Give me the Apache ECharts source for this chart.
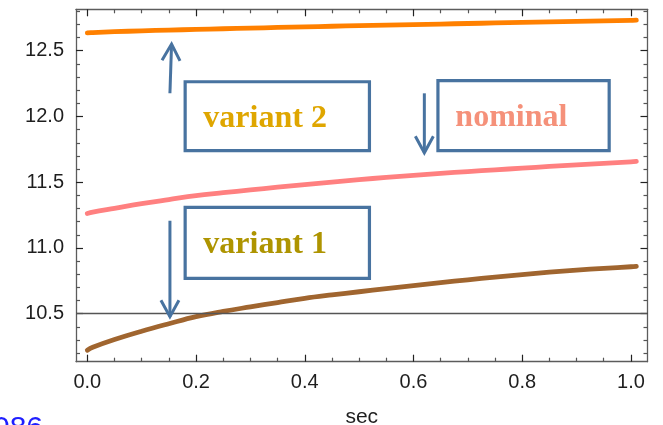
<!DOCTYPE html>
<html>
<head>
<meta charset="utf-8">
<script src="https://cdn.jsdelivr.net/npm/echarts@6/dist/echarts.min.js"></script>
<style>
  html, body { margin: 0; padding: 0; background: #fff; }
  #chart { width: 663px; height: 425px; }
</style>
</head>
<body>
<div id="chart"></div>
<script>
// Sampled time (seconds) shared by all three curves
const timeSec  = [0, 0.01, 0.05, 0.1, 0.15, 0.2, 0.25, 0.3, 0.35, 0.4, 0.45, 0.5, 0.55, 0.6, 0.65, 0.7, 0.75, 0.8, 0.85, 0.9, 0.95, 1.0, 1.01];
const variant2 = [12.636, 12.638, 12.645, 12.651, 12.657, 12.662, 12.667, 12.672, 12.677, 12.682, 12.686, 12.691, 12.695, 12.699, 12.703, 12.707, 12.711, 12.715, 12.719, 12.723, 12.727, 12.731, 12.732];
const nominal  = [11.262, 11.272, 11.301, 11.337, 11.368, 11.398, 11.420, 11.441, 11.462, 11.482, 11.501, 11.520, 11.536, 11.552, 11.567, 11.581, 11.594, 11.607, 11.620, 11.632, 11.644, 11.655, 11.658];
const variant1 = [10.222, 10.245, 10.304, 10.367, 10.424, 10.478, 10.518, 10.552, 10.585, 10.617, 10.643, 10.667, 10.690, 10.713, 10.736, 10.758, 10.778, 10.798, 10.816, 10.832, 10.845, 10.857, 10.860];
const referenceLevel = 10.5;

// Tick positions
const xMajorTicks = [0, 0.2, 0.4, 0.6, 0.8, 1.0];
const xMinorTicks = [0.05, 0.1, 0.15, 0.25, 0.3, 0.35, 0.45, 0.5, 0.55, 0.65, 0.7, 0.75, 0.85, 0.9, 0.95];
const yMajorTicks = [10.5, 11.0, 11.5, 12.0, 12.5];
const yMinorTicks = [10.2, 10.3, 10.4, 10.6, 10.7, 10.8, 10.9, 11.1, 11.2, 11.3, 11.4, 11.6, 11.7, 11.8, 11.9, 12.1, 12.2, 12.3, 12.4, 12.6, 12.7, 12.8];

const seriesNames = ['variant 2', 'nominal', 'variant 1'];

const X_MIN = -0.0208, X_MAX = 1.0305;
const Y_MIN = 10.135, Y_MAX = 12.815;

const FRAME = '#5c5c5c';
const ARROW = '#4873a0';

function pairs(ys) { return timeSec.map((t, i) => [t, ys[i]]); }

function axis(kind, position, ticks, len, withLabels, withLine, color) {
  const isX = kind === 'x';
  return {
    type: 'value',
    position: position,
    min: isX ? X_MIN : Y_MIN,
    max: isX ? X_MAX : Y_MAX,
    axisLine: { show: withLine, onZero: false, lineStyle: { color: FRAME, width: 1.3 } },
    axisTick: { show: true, inside: true, length: len, customValues: ticks,
                lineStyle: { color: color, width: 1.2 } },
    axisLabel: withLabels ? {
      show: true, customValues: ticks,
      formatter: v => Number(v).toFixed(1),
      color: '#1e1e1e', fontSize: 20, fontFamily: 'Liberation Sans',
      margin: isX ? 11 : 12
    } : { show: false },
    splitLine: { show: false },
    minorTick: { show: false }
  };
}

const chart = echarts.init(document.getElementById('chart'), null, { renderer: 'canvas' });

const xAxes = [
  Object.assign(axis('x', 'bottom', xMajorTicks, 7, true, true, '#222'), {
    name: 'sec', nameLocation: 'middle', nameGap: 45,
    nameTextStyle: { color: '#1e1e1e', fontSize: 21, fontFamily: 'Liberation Sans' }
  }),
  axis('x', 'bottom', xMinorTicks, 4, false, false, '#555'),
  axis('x', 'top', xMajorTicks, 7, false, true, '#222'),
  axis('x', 'top', xMinorTicks, 4, false, false, '#555')
];
const yAxes = [
  axis('y', 'left', yMajorTicks, 7, true, true, '#222'),
  axis('y', 'left', yMinorTicks, 4, false, false, '#555'),
  axis('y', 'right', yMajorTicks, 7, false, true, '#222'),
  axis('y', 'right', yMinorTicks, 4, false, false, '#555')
];

function curve(name, ys, color) {
  return {
    name: name, type: 'line', xAxisIndex: 0, yAxisIndex: 0,
    data: pairs(ys), showSymbol: false, smooth: 0.4, z: 3,
    lineStyle: { color: color, width: 4.8, cap: 'round', join: 'round' }
  };
}

chart.setOption({
  animation: false,
  backgroundColor: '#fff',
  grid: { left: 76, right: 15.5, top: 9.3, bottom: 63.3, containLabel: false, outerBoundsMode: 'none' },
  xAxis: xAxes,
  yAxis: yAxes,
  series: [
    {
      type: 'line', data: [], xAxisIndex: 0, yAxisIndex: 0, z: 1,
      markLine: {
        silent: true, symbol: 'none', animation: false,
        label: { show: false },
        lineStyle: { color: '#555', width: 1.4, type: 'solid' },
        data: [{ yAxis: referenceLevel }]
      }
    },
    curve(seriesNames[0], variant2, '#ff8000'),
    curve(seriesNames[1], nominal, '#ff8080'),
    curve(seriesNames[2], variant1, '#a0652f')
  ]
});

// Annotation boxes, labels and arrows, placed in data coordinates
const boxes = [
  { x0: 0.180, x1: 0.519, y0: 12.264, y1: 11.740, text: seriesNames[0], tx: 0.2135, ty: 11.980, color: '#dfa600' },
  { x0: 0.645, x1: 0.960, y0: 12.272, y1: 11.740, text: seriesNames[1], tx: 0.677,  ty: 11.993, color: '#f5917a' },
  { x0: 0.180, x1: 0.519, y0: 11.309, y1: 10.769, text: seriesNames[2], tx: 0.2135, ty: 11.025, color: '#ae9400' }
];
const arrows = [
  { from: [0.152, 12.176], to: [0.155, 12.551] },
  { from: [0.620, 12.176], to: [0.620, 11.724] },
  { from: [0.152, 11.207], to: [0.152, 10.477] }
];

function px(p) { return chart.convertToPixel({ xAxisIndex: 0, yAxisIndex: 0 }, p); }

const graphics = [];
boxes.forEach(b => {
  const a = px([b.x0, b.y0]), c = px([b.x1, b.y1]);
  graphics.push({
    type: 'rect', z: 10,
    shape: { x: a[0], y: a[1], width: c[0] - a[0], height: c[1] - a[1] },
    style: { fill: '#ffffff', stroke: ARROW, lineWidth: 3.2 }
  });
  const t = px([b.tx, b.ty]);
  graphics.push({
    type: 'text', z: 11,
    style: {
      text: b.text, x: t[0], y: t[1], fill: b.color,
      fontSize: 32, fontWeight: 'bold', fontFamily: 'Liberation Serif',
      align: 'left', verticalAlign: 'middle'
    }
  });
});
arrows.forEach(ar => {
  const p0 = px(ar.from), p1 = px(ar.to);
  const dx = p1[0] - p0[0], dy = p1[1] - p0[1];
  const len = Math.hypot(dx, dy);
  const ux = dx / len, uy = dy / len, nx = -uy, ny = ux;
  const back = [p1[0] - ux * 16.5, p1[1] - uy * 16.5];
  const w1 = [back[0] + nx * 9, back[1] + ny * 9];
  const w2 = [back[0] - nx * 9, back[1] - ny * 9];
  graphics.push({
    type: 'polyline', z: 10,
    shape: { points: [p0, p1] },
    style: { stroke: ARROW, lineWidth: 3, fill: null }
  });
  graphics.push({
    type: 'polyline', z: 10,
    shape: { points: [w1, p1, w2] },
    style: { stroke: ARROW, lineWidth: 3, fill: null, lineJoin: 'miter' }
  });
});
// Stray caption at the lower-left corner, cut by the page edge
graphics.push({
  type: 'text', z: 10,
  style: {
    text: '086', x: -7, y: 414, fill: '#1f1fff',
    fontSize: 30, fontFamily: 'Liberation Sans',
    align: 'left', verticalAlign: 'top'
  }
});

chart.setOption({ graphic: graphics });
</script>
</body>
</html>
